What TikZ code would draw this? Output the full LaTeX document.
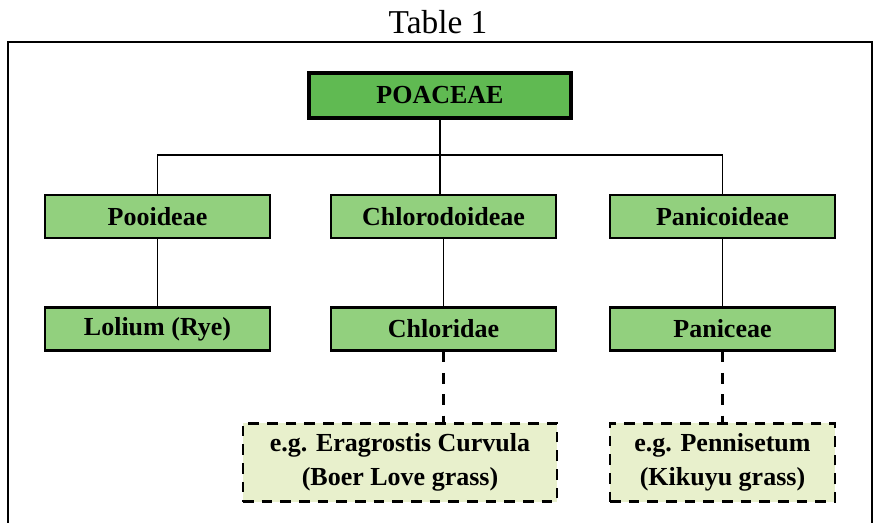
\documentclass[tikz,border=0pt]{standalone}
\usepackage{fontspec}
\setmainfont{Liberation Serif}
\definecolor{rootgreen}{RGB}{96,186,82}
\definecolor{taxgreen}{RGB}{146,208,126}
\definecolor{palegreen}{RGB}{232,240,204}
\begin{document}
\begin{tikzpicture}[x=0.75pt,y=-0.75pt,
		taxbox/.style={draw,line width=1.9pt,fill=taxgreen,minimum width=168.75pt,minimum height=32pt,inner sep=0pt,font=\fontsize{19.5}{26}\selectfont\bfseries},
		rootbox/.style={taxbox,line width=3pt,fill=rootgreen,minimum width=197pt,minimum height=33.5pt},
		examplebox/.style={taxbox,dash pattern=on 8pt off 6pt,line width=2.2pt,fill=palegreen,minimum height=59pt,align=center},
		link/.style={line width=1.1pt},
		dashlink/.style={line width=2pt,dash pattern=on 8pt off 8pt}]
	\useasboundingbox (0,0) rectangle (876,523);
	% title and frame
	\node (title) at (438,22) {\fontsize{25}{28}\selectfont Table 1};
	\draw [line width=1.5pt] (8,530) -- (8,42) -- (872,42) -- (872,530);
	% family
	\node [rootbox] (poaceae) at (440,95.5) {POACEAE};
	% subfamilies
	\node [taxbox] (pooideae) at (157.5,216.5) {Pooideae};
	\node [taxbox] (chlorodoideae) at (443.5,216.5) {Chlorodoideae};
	\node [taxbox] (panicoideae) at (722.5,216.5) {Panicoideae};
	% tribes
	\node [taxbox] (lolium) at (157.5,329) {Lolium (Rye)};
	\node [taxbox] (chloridae) at (443.5,329) {Chloridae};
	\node [taxbox] (paniceae) at (722.5,329) {Paniceae};
	% examples
	\node [examplebox,minimum width=235.5pt] (eragrostis) at (400,462.5) {e.g. Eragrostis Curvula\\(Boer Love grass)};
	\node [examplebox] (pennisetum) at (722.5,462.5) {e.g. Pennisetum\\(Kikuyu grass)};
	% connectors
	\coordinate (bus) at (440,155);
	\draw [link] (poaceae.south) -- (poaceae.south |- chlorodoideae.north);
	\draw [link] (pooideae.north) |- (bus) -| (panicoideae.north);
	\draw [link] (pooideae) -- (lolium);
	\draw [link] (chlorodoideae) -- (chloridae);
	\draw [link] (panicoideae) -- (paniceae);
	\draw [dashlink] (chloridae.south) -- (chloridae.south |- eragrostis.north);
	\draw [dashlink] (paniceae.south) -- (pennisetum.north);
\end{tikzpicture}
\end{document}
